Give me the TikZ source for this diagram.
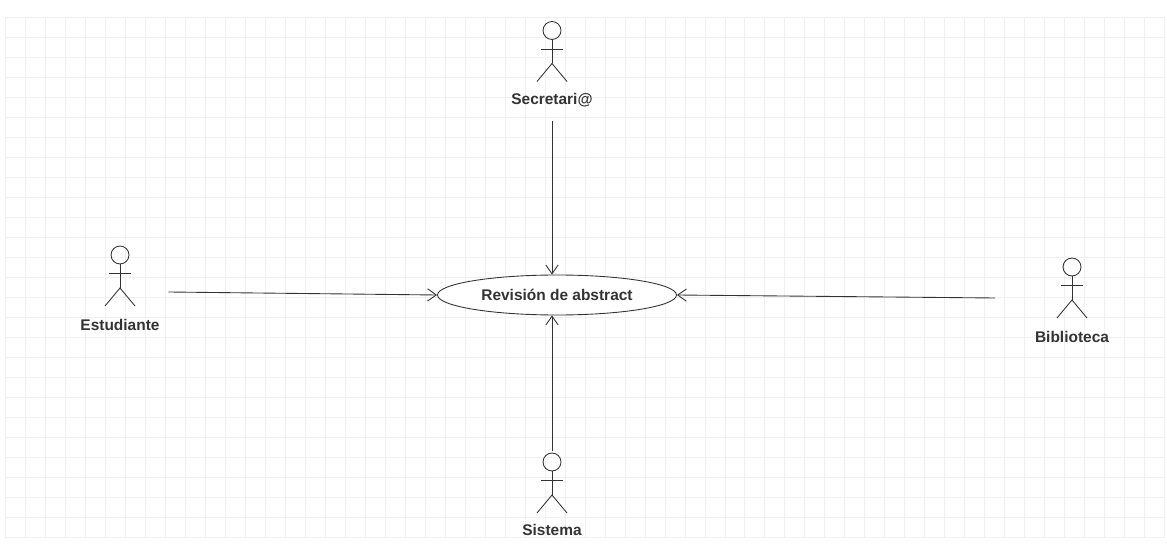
\documentclass[tikz,border=0pt]{standalone}
\usepackage{xcolor}
\usepackage{fontspec}
\setmainfont{Liberation Sans}
\usetikzlibrary{positioning,arrows.meta,shapes.geometric}

\tikzset{
  gridline/.style={draw=black!6, line width=0.4pt},
  actor/.style={minimum width=0.66cm, minimum height=1.26cm, inner sep=0pt,
    path picture={
      \begin{scope}[shift={(path picture bounding box.center)}, x=0.02cm, y=-0.02cm,
                    draw=black!80, line width=0.5pt]
        \draw (0,-21) circle (0.18cm);
        \draw (0,-12) -- (0,12);
        \draw (-11,-2.5) -- (11,-2.5);
        \draw (-15,30) -- (0,12) -- (15,30);
      \end{scope}}},
  lbl/.style={font=\bfseries\fontsize{8.8}{10}\selectfont, text=black!80, inner sep=1pt},
  usecase/.style={ellipse, draw=black!80, line width=0.5pt, fill=white,
    minimum width=4.78cm, minimum height=0.8cm, inner sep=0pt,
    font=\bfseries\fontsize{8.8}{10}\selectfont, text=black!80},
  assoc/.style={draw=black!80, line width=0.5pt, -{Straight Barb[length=5pt,width=7pt]}}
}

\begin{document}
\begin{tikzpicture}[x=0.02cm, y=-0.02cm]
  \fill[white] (0,0) rectangle (1167,547);
  \useasboundingbox (0,0) rectangle (1167,547);
  \draw[gridline, shift={(5,17)}, step=0.4cm] (0,0) grid (1160,520);

  % caso de uso
  \node[usecase] at (557,295) (rev) {Revisión de abstract};

  % actores
  \node[actor] at (552,51.5) (sec) {};
  \node[lbl, below=0.15cm of sec] (sec-l) {Secretari@};
  \node[actor] at (120,276) (est) {};
  \node[lbl, below=0.18cm of est] (est-l) {Estudiante};
  \node[actor] at (1072,288) (bib) {};
  \node[lbl, below=0.18cm of bib] (bib-l) {Biblioteca};
  \node[actor] at (552,483) (sis) {};
  \node[lbl, below=0.15cm of sis] (sis-l) {Sistema};

  % asociaciones
  \draw[assoc, shorten <=7pt] (sec-l.south) -- (sec-l.south |- rev.north);
  \draw[assoc] ([xshift=0.63cm,yshift=-0.32cm]est.east) -- (rev.west);
  \draw[assoc] ([xshift=-1.2cm,yshift=-0.2cm]bib.west) -- (rev.east);
  \draw[assoc] (sis.north) -- (sis.north |- rev.south);
\end{tikzpicture}
\end{document}
